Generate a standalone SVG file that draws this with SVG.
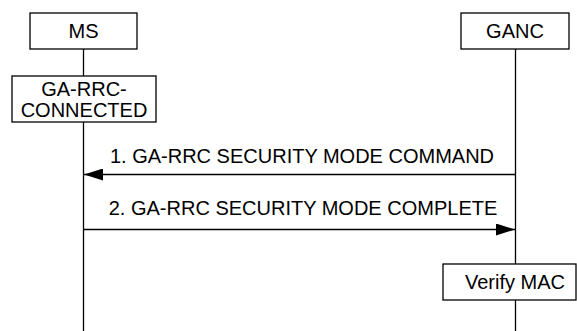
<svg xmlns="http://www.w3.org/2000/svg" width="577" height="331" viewBox="0 0 577 331">
<style>
.box{fill:#fff;stroke:#000;stroke-width:1.3}
.life{stroke:#000;stroke-width:1.3;fill:none}
.msg{stroke:#000;stroke-width:1.3;fill:none}
.t{font-family:"Liberation Sans",Arial,sans-serif;font-size:20px;fill:#000;text-anchor:middle}
</style>
<defs>
<marker id="ah" viewBox="0 0 19 12" refX="19" refY="6" markerWidth="19" markerHeight="12" markerUnits="userSpaceOnUse" orient="auto">
<path d="M0,0 L19,6 L0,12 Z" fill="#000"/>
</marker>
</defs>
<g id="connectors">
<line class="life" x1="83.5" y1="49" x2="83.5" y2="331"/>
<line class="life" x1="515.5" y1="49" x2="515.5" y2="331"/>
<line class="msg" x1="515.5" y1="174.5" x2="84" y2="174.5" marker-end="url(#ah)"/>
<text class="t" x="302" y="163">1. GA-RRC SECURITY MODE COMMAND</text>
<line class="msg" x1="83.5" y1="229.5" x2="515" y2="229.5" marker-end="url(#ah)"/>
<text class="t" x="303" y="215">2. GA-RRC SECURITY MODE COMPLETE</text>
</g>
<g id="ms">
<rect class="box" x="30" y="13" width="107" height="36"/>
<text class="t" x="83.5" y="38">MS</text>
</g>
<g id="ganc">
<rect class="box" x="461" y="13" width="108" height="36"/>
<text class="t" x="515" y="38">GANC</text>
</g>
<g id="garrc">
<rect class="box" x="12" y="76" width="144" height="46"/>
<text class="t" x="84" y="96">GA-RRC-</text>
<text class="t" x="84" y="117">CONNECTED</text>
</g>
<g id="verify">
<rect class="box" x="443" y="264" width="133" height="36"/>
<text class="t" x="515" y="289">Verify MAC</text>
</g>
</svg>
